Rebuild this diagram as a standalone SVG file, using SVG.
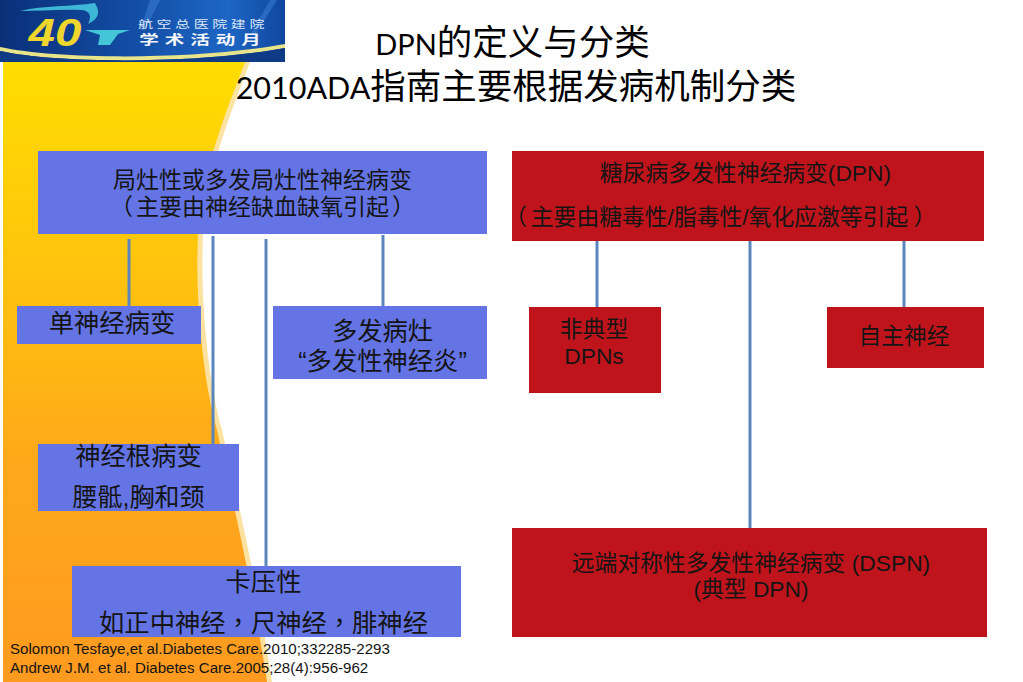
<svg xmlns="http://www.w3.org/2000/svg" width="1023" height="682" viewBox="0 0 1023 682">
<style>
text{font-family:"Liberation Sans","Noto Sans CJK SC",sans-serif;text-anchor:middle;fill:#141414}
.title{font-family:"Lato","Noto Sans CJK SC",sans-serif;fill:#000;font-size:35.5px}
.p{font-family:"Noto Sans CJK TC",sans-serif}
.blue{fill:#6474e5}
.red{fill:#c0141c}
.conn{stroke:#5b86bd;stroke-width:3;fill:none}
.ref{font-size:15.100px;text-anchor:start}
</style>
<defs>
<linearGradient id="bg" x1="0" y1="0" x2="0" y2="1"><stop offset="0" stop-color="#ffdd00"/><stop offset="0.3" stop-color="#ffc60c"/><stop offset="0.65" stop-color="#ffa81a"/><stop offset="1" stop-color="#fe9a20"/></linearGradient>
<linearGradient id="ban" x1="0" y1="0" x2="1" y2="0"><stop offset="0" stop-color="#0a2f78"/><stop offset="0.5" stop-color="#1450a8"/><stop offset="0.8" stop-color="#1d66c4"/><stop offset="1" stop-color="#0f47a0"/></linearGradient>
</defs>
<rect width="1023" height="682" fill="#fff"/>
<g id="background">
<path d="M3 62H250C232 110 205 175 203 235C200 300 208 380 222 430C235 490 255 570 272 682H3Z" fill="#fbe2a0"/>
<path d="M3 62H245C227 110 200 175 198 235C195 300 203 380 217 430C230 490 250 570 267 682H3Z" fill="url(#bg)"/>
</g>
<g id="banner">
<rect x="0" y="0" width="285" height="62" fill="url(#ban)"/>
<path d="M150 0L160 0L145 30L140 30Z M270 0L277 0L255 35L250 35Z" fill="#3f82d6" opacity="0.5"/>
<path d="M20 11C45 5 70 7 95 3C100 12 100 18 88 24C92 16 90 11 82 10C60 9 40 11 20 11Z" fill="#3fb8d8"/>
<path d="M85 30H130L118 34L110 45H98L100 35Z" fill="#45c6d8"/>
<path d="M0 47C60 60 200 60 285 44V48C200 64 60 64 0 51Z" fill="#e9e48a"/>
<path d="M0 51C60 64 200 64 285 48V62H0Z" fill="#0e3a86"/>
<text transform="translate(55 46) scale(1.250 1)" style="font-size:38px;font-weight:bold;font-style:italic;fill:#efd62c">40</text>
<text transform="translate(203 28) scale(1.500 1)" style="font-size:10px;fill:#dfe8f6;letter-spacing:2.400px">航空总医院建院</text>
<text transform="translate(203 44) scale(1.500 1)" style="font-size:13px;font-weight:bold;fill:#f4f6fb;letter-spacing:4px">学术活动月</text>
</g>
<g id="title">
<text class="title" x="512.500" y="55"><tspan font-size="29">DPN</tspan>的定义与分类</text>
<text class="title" x="516" y="99"><tspan font-size="30.500">2010ADA</tspan>指南主要根据发病机制分类</text>
</g>
<g id="connectors">
<line class="conn" x1="129" y1="239" x2="129" y2="306"/>
<line class="conn" x1="213" y1="236" x2="213" y2="444"/>
<line class="conn" x1="266" y1="239" x2="266" y2="566"/>
<line class="conn" x1="383" y1="235" x2="383" y2="306"/>
<line class="conn" x1="597" y1="241" x2="597" y2="307"/>
<line class="conn" x1="750" y1="241" x2="750" y2="528"/>
<line class="conn" x1="904" y1="241" x2="904" y2="307"/>
</g>
<g id="n1"><rect class="blue" x="38" y="151" width="449" height="83"/>
<text x="262.500" y="188" font-size="23">局灶性或多发局灶性神经病变</text>
<text y="215" font-size="23"><tspan x="121.500">（</tspan><tspan x="262.500">主要由神经缺血缺氧引起</tspan><tspan x="403.500">）</tspan></text></g>
<g id="n2"><rect class="blue" x="17" y="306" width="184" height="38"/>
<text x="112" y="332" font-size="25.300">单神经病变</text></g>
<g id="n3"><rect class="blue" x="273" y="306" width="214" height="73"/>
<text x="382.500" y="340" font-size="25.300">多发病灶</text>
<text x="382.500" y="370" font-size="25.300">“多发性神经炎”</text></g>
<g id="n4"><rect class="blue" x="38" y="444" width="201" height="67"/>
<text x="138.500" y="465" font-size="25.300">神经根病变</text>
<text x="138.500" y="506" font-size="25">腰骶,胸和颈</text></g>
<g id="n5"><rect class="blue" x="72" y="566" width="389" height="71"/>
<text x="263.500" y="591" font-size="25.300">卡压性</text>
<text x="263.500" y="632" font-size="25.300">如正中神经<tspan class="p">，</tspan>尺神经<tspan class="p">，</tspan>腓神经</text></g>
<g id="n6"><rect class="red" x="512" y="151" width="472" height="90"/>
<text x="745.500" y="181" font-size="22.800">糖尿病多发性神经病变(DPN)</text>
<text y="225" font-size="22.800"><tspan x="515.600">（</tspan><tspan x="719.500">主要由糖毒性/脂毒性/氧化应激等引起</tspan><tspan x="925">）</tspan></text></g>
<g id="n7"><rect class="red" x="529" y="307" width="132" height="86"/>
<text x="594" y="337" font-size="22.800">非典型</text>
<text x="594" y="364" font-size="22.800">DPNs</text></g>
<g id="n8"><rect class="red" x="827" y="307" width="157" height="61"/>
<text x="904" y="344" font-size="22.800">自主神经</text></g>
<g id="n9"><rect class="red" x="512" y="528" width="475" height="109"/>
<text x="751" y="571" font-size="22.800">远端对称性多发性神经病变 (DSPN)</text>
<text x="751" y="597" font-size="22.800">(典型 DPN)</text></g>
<g id="refs">
<text class="ref" x="10" y="654">Solomon Tesfaye,et al.Diabetes Care.2010;332285-2293</text>
<text class="ref" x="10" y="673">Andrew J.M. et al. Diabetes Care.2005;28(4):956-962</text>
</g>
</svg>
